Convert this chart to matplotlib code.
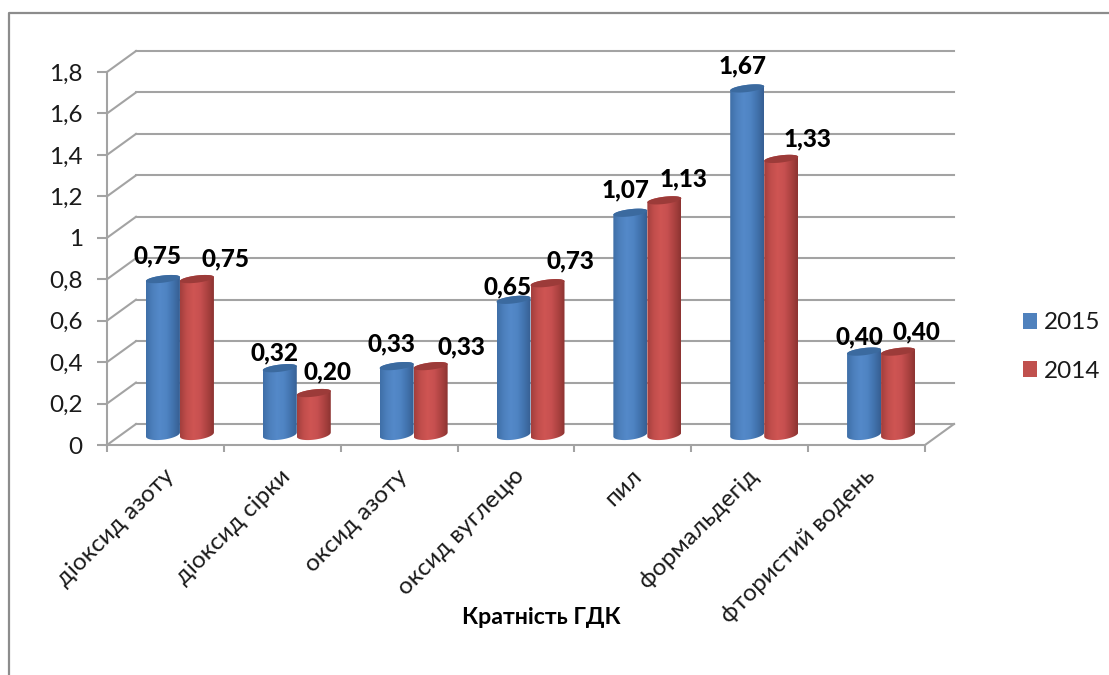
#!/usr/bin/env python3
# -*- coding: utf-8 -*-
import numpy as np
from matplotlib import pyplot as plt
from matplotlib.colors import LinearSegmentedColormap
from matplotlib.lines import Line2D
from matplotlib.patches import Patch, Polygon

categories = ["діоксид азоту", "діоксид сірки", "оксид азоту", "оксид вуглецю",
              "пил", "формальдегід", "фтористий водень"]
values_2015 = [0.75, 0.32, 0.33, 0.65, 1.07, 1.67, 0.40]
values_2014 = [0.75, 0.20, 0.33, 0.73, 1.13, 1.33, 0.40]
y_ticks = [0, 0.2, 0.4, 0.6, 0.8, 1.0, 1.2, 1.4, 1.6, 1.8]
y_labels = ["0", "0,2", "0,4", "0,6", "0,8", "1", "1,2", "1,4", "1,6", "1,8"]

# label offsets from the top of each cylinder, in pixels
offsets_2015 = [(-5, 23), (-5, 15), (-5, 22), (-6, 13), (-5, 23), (-5, 23), (-5, 15)]
offsets_2014 = [(29, 20), (14, 21), (31, 19), (23, 22), (19, 21), (26, 20), (18, 20)]

GRAY = "#a3a3a3"
FONT = ["Lato", "Noto Sans"]
plt.rcParams["font.family"] = FONT

W, H = 1109, 675
fig = plt.figure(figsize=(W / 100, H / 100), dpi=100)
ax = fig.add_axes([107 / W, (H - 445) / H, (925 - 107) / W, (445 - 72) / H])
ax.patch.set_visible(False)

px_x = (925 - 107) / 7.0    # pixels per category
px_y = (445 - 72) / 1.8     # pixels per unit of value

# the fake 3d box: back wall is shifted right and up
depth_x = 29 / px_x
depth_y = 21 / px_y

for v in y_ticks:
    ax.plot([depth_x, 7 + depth_x], [v + depth_y, v + depth_y], color=GRAY, lw=1.5,
            clip_on=False, zorder=1)
    ax.plot([0, depth_x], [v, v + depth_y], color=GRAY, lw=1.5, clip_on=False, zorder=1)
ax.plot([7, 7 + depth_x], [0, depth_y], color=GRAY, lw=1.5, clip_on=False, zorder=1)

half_w = 17 / px_x
cap_h = 3.6 / px_y
base_h = 5.2 / px_y
slope = 2.0 / px_y

blue_map = LinearSegmentedColormap.from_list(
    "blue_cyl", ["#3f6fa8", "#4d80bd", "#5489c9", "#4f84c3", "#4273ae", "#375f93"])
red_map = LinearSegmentedColormap.from_list(
    "red_cyl", ["#a33f3d", "#c24e4c", "#cf5553", "#c75050", "#ad4341", "#8d3432"])
shade = np.linspace(0, 1, 64).reshape(1, -1)


def cylinder(center, value, cmap, cap_color):
    base = depth_y / 2
    t = np.linspace(0, np.pi, 40)
    top_x = center + half_w * np.cos(t)
    top_y = base + value + cap_h * np.sin(t) + slope * np.cos(t)
    bot_x = center - half_w * np.cos(t)
    bot_y = base - base_h * np.sin(t) - slope * np.cos(t)
    outline = np.column_stack([np.r_[top_x, bot_x], np.r_[top_y, bot_y]])
    img = ax.imshow(shade, cmap=cmap, aspect="auto", zorder=3, interpolation="bilinear",
                    extent=[center - half_w, center + half_w,
                            base - 2 * base_h, base + value + 2 * cap_h])
    img.set_clip_path(Polygon(outline, transform=ax.transData))

    # lid of the cylinder
    t = np.linspace(0, 2 * np.pi, 80)
    ax.fill(center + half_w * np.cos(t),
            base + value + cap_h * np.sin(t) + slope * np.cos(t),
            color=cap_color, lw=0, zorder=3)
    return base + value


def value_label(x, top, value, offset):
    ax.annotate(f"{value:.2f}".replace(".", ","), (x, top), xytext=offset,
                textcoords="offset pixels", ha="center", va="center", fontsize=17.5,
                fontweight=900, color="black", zorder=6, annotation_clip=False)


for i in range(len(categories)):
    mid = i + 0.5 + depth_x / 2
    top = cylinder(mid - half_w, values_2015[i], blue_map, "#3b6a9f")
    value_label(mid - half_w, top, values_2015[i], offsets_2015[i])
    top = cylinder(mid + half_w, values_2014[i], red_map, "#9c3b39")
    value_label(mid + half_w, top, values_2014[i], offsets_2014[i])

ax.set_xlim(0, 7)
ax.set_ylim(0, 1.8)

for side in ["top", "right"]:
    ax.spines[side].set_visible(False)
for side in ["left", "bottom"]:
    ax.spines[side].set_color(GRAY)
    ax.spines[side].set_linewidth(1.5)

ax.set_yticks(y_ticks, y_labels)
ax.tick_params(axis="y", length=7, width=1.5, color=GRAY, pad=10.5, labelsize=17.5,
               labelcolor="#1a1a1a")
ax.set_xticks(range(8))
ax.tick_params(axis="x", which="major", length=5, width=1.5, color=GRAY, labelbottom=False)
# labels sit a little right of the category centre
ax.set_xticks(np.arange(7) + 0.5 + 5 / px_x, categories, minor=True)
ax.tick_params(axis="x", which="minor", length=0, pad=20, labelsize=17.5, labelcolor="#1a1a1a")
for lab in ax.get_xticklabels(minor=True):
    lab.set_rotation(45)
    lab.set_ha("right")
    lab.set_va("center")
    lab.set_rotation_mode("anchor")

fig.text(541 / W, 1 - 618 / H, "Кратність ГДК", ha="center", va="center",
         fontsize=16.7, fontweight="bold", color="black")

handles = [Patch(facecolor="#4f81bd", lw=0, label="2015"),
           Patch(facecolor="#c0504d", lw=0, label="2014")]
fig.legend(handles=handles, loc="center left", bbox_to_anchor=(1001 / W, 1 - 347 / H),
           frameon=False, fontsize=17.5, handlelength=0.6, handleheight=0.6,
           handletextpad=0.25, labelspacing=1.12, labelcolor="#1a1a1a")

# outer chart frame, cut by the edge of the image on the right and bottom
frame_x = [9 / W, 9 / W, 1.0]
frame_y = [0.0, 1 - 13 / H, 1 - 13 / H]
fig.add_artist(Line2D(frame_x, frame_y, color="#8c8c8c", lw=1.6, transform=fig.transFigure))

fig.savefig("out.png", dpi=100)
